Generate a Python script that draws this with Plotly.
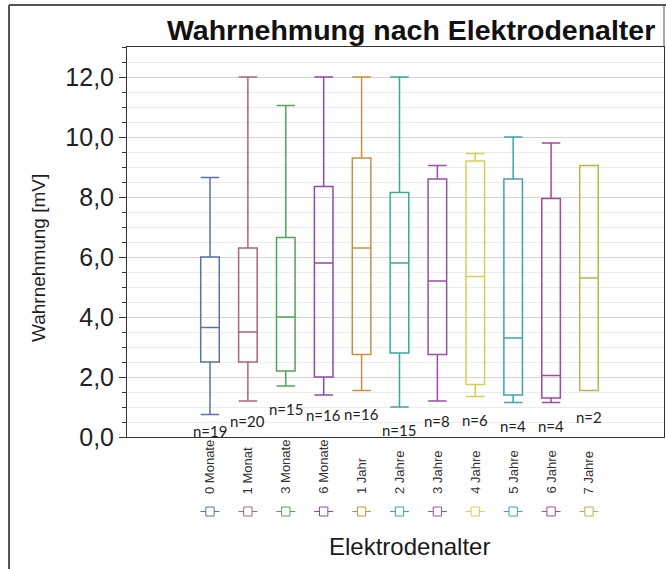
import plotly.graph_objects as go

# Electrode age groups and sensing amplitude summary (mV)
categories = ["0 Monate", "1 Monat", "3 Monate", "6 Monate", "1 Jahr", "2 Jahre",
              "3 Jahre", "4 Jahre", "5 Jahre", "6 Jahre", "7 Jahre"]
lower_whisker = [0.75, 1.2, 1.7, 1.4, 1.55, 1.0, 1.2, 1.35, 1.15, 1.15, 1.55]
q1_values = [2.5, 2.5, 2.2, 2.0, 2.75, 2.8, 2.75, 1.75, 1.4, 1.3, 1.55]
median_values = [3.65, 3.5, 4.0, 5.8, 6.3, 5.8, 5.2, 5.35, 3.3, 2.05, 5.3]
q3_values = [6.0, 6.3, 6.65, 8.35, 9.3, 8.15, 8.6, 9.2, 8.6, 7.95, 9.05]
upper_whisker = [8.65, 12.0, 11.05, 12.0, 12.0, 12.0, 9.05, 9.45, 10.0, 9.8, 9.05]
n_counts = [19, 20, 15, 16, 16, 15, 8, 6, 4, 4, 2]

colors = ["#5a72a8", "#b06478", "#4fa45a", "#8e48b0", "#c9923a", "#36ab9c",
          "#9a4ea6", "#d6d055", "#3fa3ae", "#a845a5", "#b8b648"]

# vertical placement of the "n=" labels (axis units)
n_label_y = [0.2, 0.55, 0.95, 0.72, 0.78, 0.25, 0.55, 0.58, 0.38, 0.38, 0.68]

W, H = 666, 569
L, R, T, B = 127, 2, 47, 132
pw, ph = W - L - R, H - T - B


def px_x(px):
    return (px - L) / pw


def px_y(py):
    return (H - B - py) / ph


fig = go.Figure()

for i, cat in enumerate(categories):
    fig.add_trace(go.Box(
        x=[cat],
        q1=[q1_values[i]], median=[median_values[i]], q3=[q3_values[i]],
        lowerfence=[lower_whisker[i]], upperfence=[upper_whisker[i]],
        width=0.49, whiskerwidth=1,
        line=dict(color=colors[i], width=1.5),
        fillcolor="rgba(0,0,0,0)",
        boxpoints=False, showlegend=False, hoverinfo="skip",
    ))

annotations = []
shapes = []
for i, cat in enumerate(categories):
    # sample size
    annotations.append(dict(
        x=cat, y=n_label_y[i], xref="x", yref="y", text=f"n={n_counts[i]}",
        xanchor="center", yanchor="middle", showarrow=False,
        font=dict(family="Lato, Liberation Sans", size=15, color="#222"),
    ))
    # rotated category label
    annotations.append(dict(
        x=cat, y=px_y(496), xref="x", yref="paper", text=cat, textangle=-90,
        xanchor="center", yanchor="bottom", showarrow=False,
        font=dict(family="Liberation Sans", size=13, color="#333"),
    ))
    # small box glyph under each label
    shapes.append(dict(type="line", xref="x", yref="paper", x0=i - 0.25, x1=i + 0.25,
                       y0=px_y(511.5), y1=px_y(511.5), line=dict(color=colors[i], width=1)))
    shapes.append(dict(type="rect", xref="x", yref="paper", x0=i - 0.11, x1=i + 0.11,
                       y0=px_y(507), y1=px_y(516), fillcolor="white",
                       line=dict(color=colors[i], width=1)))

# titles
annotations.append(dict(
    x=px_x(411), y=px_y(30), xref="paper", yref="paper",
    xanchor="center", yanchor="middle",
    text="<b>Wahrnehmung nach Elektrodenalter</b>", showarrow=False,
    font=dict(family="Liberation Sans", size=28.5, color="#111"),
))
annotations.append(dict(
    x=px_x(38), y=px_y(258), xref="paper", yref="paper", text="Wahrnehmung [mV]",
    xanchor="center", yanchor="middle", textangle=-90, showarrow=False,
    font=dict(family="Liberation Sans", size=19, color="#1e1e28"),
))
annotations.append(dict(
    x=px_x(409), y=px_y(546), xref="paper", yref="paper", text="Elektrodenalter",
    xanchor="center", yanchor="middle", showarrow=False,
    font=dict(family="Liberation Sans", size=24, color="#1a1a1a"),
))

# outer frame
frame = dict(color="#555", width=2)
shapes.append(dict(type="line", xref="paper", yref="paper", x0=px_x(9), x1=px_x(9),
                   y0=px_y(569), y1=px_y(5), line=frame))
shapes.append(dict(type="line", xref="paper", yref="paper", x0=px_x(9), x1=px_x(666),
                   y0=px_y(5), y1=px_y(5), line=frame))
shapes.append(dict(type="line", xref="paper", yref="paper", x0=1, x1=1,
                   y0=1, y1=px_y(5), line=dict(color="#555", width=1)))

fig.update_layout(
    width=W, height=H,
    margin=dict(l=L, r=R, t=T, b=B, pad=0),
    paper_bgcolor="white", plot_bgcolor="white",
    separators=",.",
    boxmode="overlay",
    annotations=annotations, shapes=shapes,
    font=dict(family="Liberation Sans"),
)

fig.update_xaxes(
    type="category", categoryorder="array", categoryarray=categories,
    range=[-2.19, 11.98], showticklabels=False, ticks="",
    showline=True, linecolor="#333", linewidth=1, mirror=True,
    showgrid=False, zeroline=False,
)

fig.update_yaxes(
    range=[0, 13], tickvals=[0, 2, 4, 6, 8, 10, 12], tickformat=".1f",
    ticks="outside", ticklen=7, tickcolor="#333",
    tickfont=dict(family="Liberation Sans", size=25, color="#222"),
    showline=True, linecolor="#333", linewidth=1, mirror=True,
    showgrid=True, gridcolor="#d4d4d4", gridwidth=1, zeroline=False,
    minor=dict(dtick=0.5, ticks="outside", ticklen=4, tickcolor="#333",
               showgrid=True, gridcolor="#ececec"),
)

fig.write_html("out.html")
